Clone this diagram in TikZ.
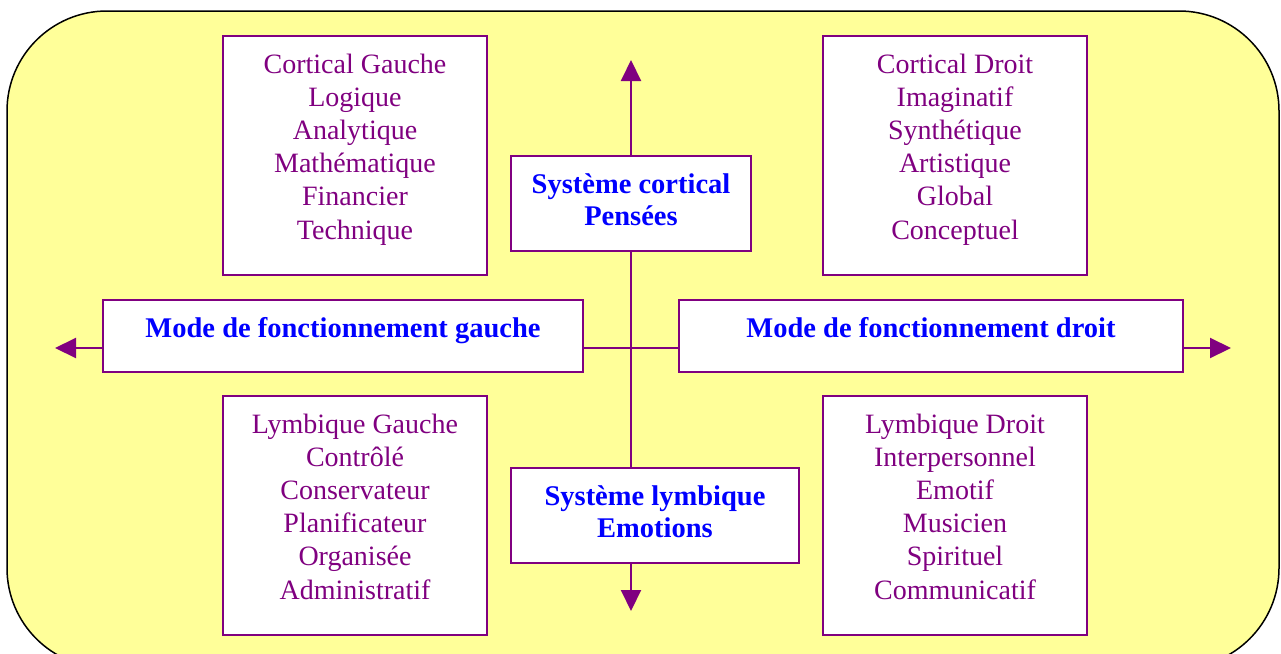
\documentclass[tikz,border=0pt]{standalone}
\usepackage{fontspec}
\setmainfont{Liberation Serif}
\usetikzlibrary{arrows.meta,backgrounds}
\definecolor{pur}{RGB}{128,0,128}
\definecolor{yel}{RGB}{255,255,153}
\definecolor{blu}{RGB}{0,0,255}
\tikzset{
  qbox/.style={draw=pur,line width=2pt,fill=white,minimum width=264pt,minimum height=239pt,inner sep=0pt},
  cbox/.style={draw=pur,line width=2pt,fill=white,inner sep=0pt},
  qtext/.style={text=pur,font=\fontsize{28}{33.2}\selectfont,align=center,anchor=north,inner sep=0pt},
  btext/.style={text=blu,font=\fontsize{28.5}{32}\selectfont\bfseries,align=center,anchor=north,inner sep=0pt},
  axis/.style={draw=pur,line width=2pt},
  tip/.style={-{Triangle[length=21pt,width=20pt]}}
}
\begin{document}
\begin{tikzpicture}[x=1pt,y=-1pt]
\useasboundingbox (0,0) rectangle (1281,653);
\clip (0,0) rectangle (1281,653);
% quadrant boxes
\node[qbox] (tl) at (355,155.5) {};
\node[qbox] (tr) at (955,155.5) {};
\node[qbox] (bl) at (355,515.5) {};
\node[qbox] (br) at (955,515.5) {};
\node[qtext] (tlt) at (355,53.5) {Cortical Gauche\\Logique\\Analytique\\Mathématique\\Financier\\Technique};
\node[qtext] (trt) at (955,53.5) {Cortical Droit\\Imaginatif\\Synthétique\\Artistique\\Global\\Conceptuel};
\node[qtext] (blt) at (355,413.5) {Lymbique Gauche\\Contrôlé\\Conservateur\\Planificateur\\Organisée\\Administratif};
\node[qtext] (brt) at (955,413.5) {Lymbique Droit\\Interpersonnel\\Emotif\\Musicien\\Spirituel\\Communicatif};
% centre boxes
\node[cbox,minimum width=240pt,minimum height=95pt] (cort) at (631,203.5) {};
\node[btext] (cortt) at (631,173) {Système cortical\\Pensées};
\node[cbox,minimum width=288pt,minimum height=95pt] (lymb) at (655,515.5) {};
\node[btext] (lymbt) at (655,485.5) {Système lymbique\\Emotions};
\node[cbox,minimum width=480pt,minimum height=72pt] (lm) at (343,336) {};
\node[btext] (lmt) at (343,317) {Mode de fonctionnement gauche};
\node[cbox,minimum width=504pt,minimum height=72pt] (rm) at (931,336) {};
\node[btext] (rmt) at (931,317) {Mode de fonctionnement droit};
\coordinate (toptip) at (631,60);
\coordinate (bottip) at (631,611);
\coordinate (lefttip) at (55,348);
\coordinate (righttip) at (1231,348);
\begin{scope}[on background layer]
\draw[fill=yel,line width=1.5pt,rounded corners=100pt] (7,11) rectangle (1279,668);
\draw[axis,tip] (cort.north) -- (toptip);
\draw[axis] (cort.south) -- (cort.south |- lymb.north);
\draw[axis,tip] (lymb.south -| cort.south) -- (bottip);
\draw[axis,tip] (lm.west |- lefttip) -- (lefttip);
\draw[axis] (lm.east |- lefttip) -- (rm.west |- lefttip);
\draw[axis,tip] (rm.east |- righttip) -- (righttip);
\end{scope}
\end{tikzpicture}
\end{document}
